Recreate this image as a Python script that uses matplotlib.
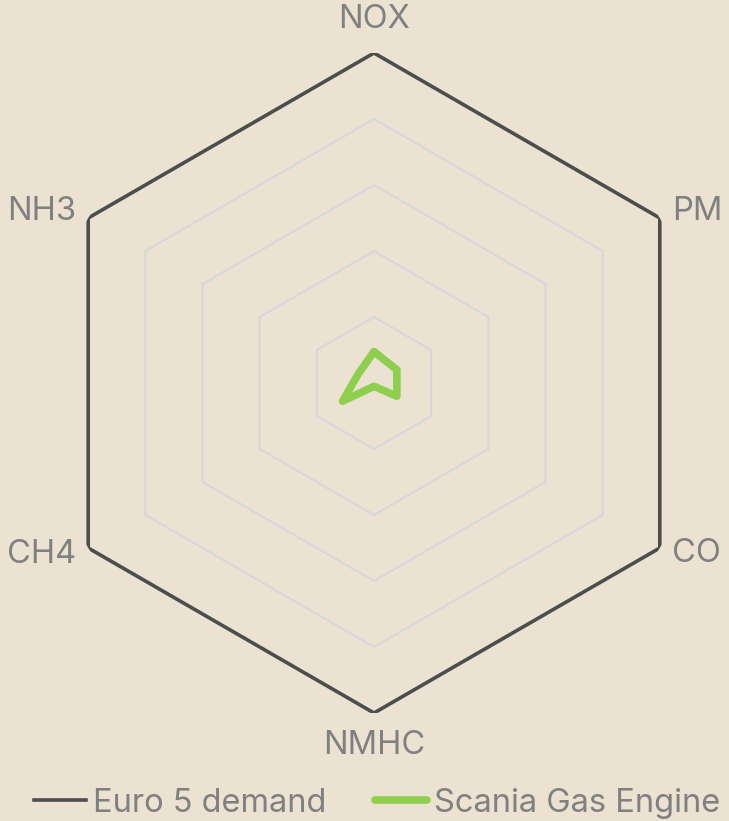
import numpy as np
import matplotlib
matplotlib.use("Agg")
import matplotlib.pyplot as plt
from matplotlib.lines import Line2D

plt.rcParams["font.family"] = ["Inter", "DejaVu Sans"]

CATS = ["NOX", "PM", "CO", "NMHC", "CH4", "NH3"]
EURO5 = [100, 100, 100, 100, 100, 100]          # demand = 100 %
SCANIA = [9.5, 8.0, 8.0, 1.0, 11.0, 5.5]        # % of demand
GRID_LEVELS = [20, 40, 60, 80]

BG = "#ebe2d2"; DARK = "#4d4d4d"; GREEN = "#8ed04e"; GRIDC = "#d9d6da"; TXT = "#808080"
FS = 23.5

fig = plt.figure(figsize=(7.29, 8.21), dpi=100, facecolor=BG)
ax = fig.add_axes([44 / 729, 108 / 821, 660 / 729, 660 / 821], projection="polar")
ax.set_facecolor(BG)
ax.set_theta_zero_location("N"); ax.set_theta_direction(-1)
ax.set_ylim(0, 100)
ax.grid(False); ax.spines["polar"].set_visible(False)
ax.set_xticks([]); ax.set_yticks([])

th = np.linspace(0, 2 * np.pi, len(CATS), endpoint=False)
thc = np.append(th, th[0])
for lv in GRID_LEVELS:
    ax.plot(thc, [lv] * len(thc), color=GRIDC, lw=1.5, zorder=1)
ax.plot(thc, EURO5 + EURO5[:1], color=DARK, lw=2.6, zorder=2)
ax.plot(thc, SCANIA + SCANIA[:1], color=GREEN, lw=5.5, solid_joinstyle="round",
        solid_capstyle="round", zorder=3)

# label offsets (pixels) from each vertex
offs = {"NOX": (0, 34, "center"), "PM": (12, 7, "left"), "CO": (12, -6, "left"),
        "NMHC": (0, -32, "center"), "CH4": (-12, -6, "right"), "NH3": (-12, 7, "right")}
for t, lab in zip(th, CATS):
    dx, dy, ha = offs[lab]
    ax.annotate(lab, xy=(t, 100), xytext=(dx, dy), textcoords="offset pixels",
                ha=ha, va="center", fontsize=FS, color=TXT, annotation_clip=False)

handles = [Line2D([0], [0], color=DARK, lw=2.6, label="Euro 5 demand"),
           Line2D([0], [0], color=GREEN, lw=5.5, solid_capstyle="round", label="Scania Gas Engine")]
leg = fig.legend(handles=handles, loc="center", bbox_to_anchor=(377 / 729, 18 / 821), ncol=2,
                 frameon=False, fontsize=FS, handlelength=1.6, handletextpad=0.2,
                 columnspacing=1.5, borderpad=0)
for t in leg.get_texts():
    t.set_color(TXT)

fig.savefig("out.png", dpi=100, facecolor=BG)
